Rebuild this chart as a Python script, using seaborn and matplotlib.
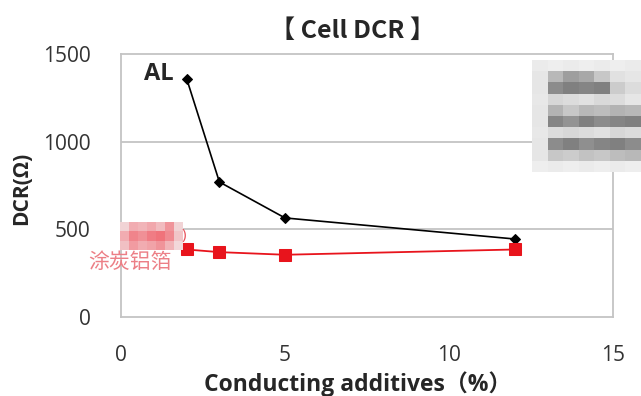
import numpy as np
import pandas as pd
import matplotlib
matplotlib.use('Agg')
import matplotlib.pyplot as plt
import seaborn as sns

# -----------------------------------------------
# Data
# -----------------------------------------------
al_x = [2, 3, 5, 12]
al_dcr = [1360, 770, 565, 445]

coated_x = [2, 3, 5, 12]
coated_dcr = [385, 370, 355, 385]

x_ticks = [0, 5, 10, 15]
y_ticks = [0, 500, 1000, 1500]

sns.set_style('white')
plt.rcParams['font.family'] = ['Open Sans', 'Noto Sans CJK SC', 'DejaVu Sans']

fig = plt.figure(figsize=(6.41, 3.96), dpi=100)
ax = fig.add_axes([121 / 641, 1 - 317 / 396, (613 - 121) / 641, (317 - 54) / 396])

grey = '#c4c4c4'

# gridlines
for v in [500, 1000]:
    ax.axhline(v, color=grey, lw=1.3, zorder=0)

sns.lineplot(x=al_x, y=al_dcr, ax=ax, color='black', lw=1.2,
             marker='D', markersize=5.5, markeredgecolor='black', zorder=3)
sns.lineplot(x=coated_x, y=coated_dcr, ax=ax, color='#e8141c', lw=1.3,
             marker='s', markersize=8, markeredgecolor='#e8141c', zorder=3)

ax.set_xlim(0, 15)
ax.set_ylim(0, 1500)
ax.set_xticks(x_ticks)
ax.set_yticks(y_ticks)
ax.set_xticklabels([str(t) for t in x_ticks], fontsize=15, color='#333333')
ax.set_yticklabels([str(t) for t in y_ticks], fontsize=15, color='#333333')
ax.tick_params(axis='x', direction='in', length=6, width=1.2, color=grey, pad=20)
ax.tick_params(axis='y', length=0, pad=22)

for s in ax.spines.values():
    s.set_color(grey)
    s.set_linewidth(1.3)

ax.set_xlabel('')
ax.set_ylabel('')

# titles / labels
fig.text(353 / 641, 1 - 31 / 396, '【 Cell DCR 】', ha='center', va='center',
         fontsize=18, fontweight='bold', family=['Noto Sans CJK SC', 'DejaVu Sans'])
fig.text(358 / 641, 1 - 384 / 396, 'Conducting additives（%）', ha='center', va='center',
         fontsize=16.5, fontweight='bold', family=['Open Sans', 'Noto Sans CJK SC', 'DejaVu Sans'])
fig.text(22 / 641, 1 - 188 / 396, 'DCR(Ω)', ha='center', va='center', rotation=90,
         fontsize=15, fontweight='bold', family=['Open Sans', 'DejaVu Sans'])

# series labels
fig.text(159 / 641, 1 - 74 / 396, 'AL', ha='center', va='center',
         fontsize=17, fontweight='bold', family=['Open Sans', 'DejaVu Sans'])
fig.text(130 / 641, 1 - 262 / 396, '涂炭铝箔', ha='center', va='center',
         fontsize=15, color='#ec7f86', family=['Noto Sans CJK SC', 'DejaVu Sans'])

# pixelated (mosaic) patches from the source image
pink = np.array([
    [0.88, 0.72, 0.75, 0.70, 0.78, 0.62, 0.88],
    [0.72, 0.55, 0.60, 0.52, 0.48, 0.58, 0.82],
    [0.80, 0.65, 0.72, 0.68, 0.62, 0.75, 0.90],
])
pax = fig.add_axes([120 / 641, 1 - 250 / 396, 63 / 641, 28 / 396])
pax.imshow(pink, cmap=sns.light_palette('#f0606a', as_cmap=True, reverse=True),
           vmin=0.4, vmax=1.0, aspect='auto', interpolation='nearest')
pax.axis('off')
fig.text(184 / 641, 1 - 235 / 396, ')', ha='center', va='center',
         fontsize=11, color='#e8505a')

legend_blur = np.array([
    [0.92, 0.93, 0.92, 0.93, 0.92, 0.93, 0.92],
    [0.90, 0.72, 0.62, 0.66, 0.78, 0.88, 0.90],
    [0.90, 0.55, 0.50, 0.52, 0.50, 0.80, 0.86],
    [0.91, 0.84, 0.86, 0.88, 0.85, 0.86, 0.90],
    [0.90, 0.70, 0.78, 0.72, 0.74, 0.70, 0.72],
    [0.90, 0.52, 0.58, 0.50, 0.55, 0.52, 0.50],
    [0.91, 0.86, 0.84, 0.86, 0.88, 0.84, 0.86],
    [0.90, 0.55, 0.50, 0.56, 0.52, 0.50, 0.55],
    [0.90, 0.78, 0.80, 0.76, 0.78, 0.74, 0.72],
    [0.93, 0.92, 0.93, 0.92, 0.93, 0.92, 0.93],
])
lax = fig.add_axes([532 / 641, 1 - 172 / 396, 109 / 641, 112 / 396])
lax.imshow(legend_blur, cmap='gray', vmin=0, vmax=1, aspect='auto', interpolation='nearest')
lax.axis('off')

plt.savefig('out.png', dpi=100)
